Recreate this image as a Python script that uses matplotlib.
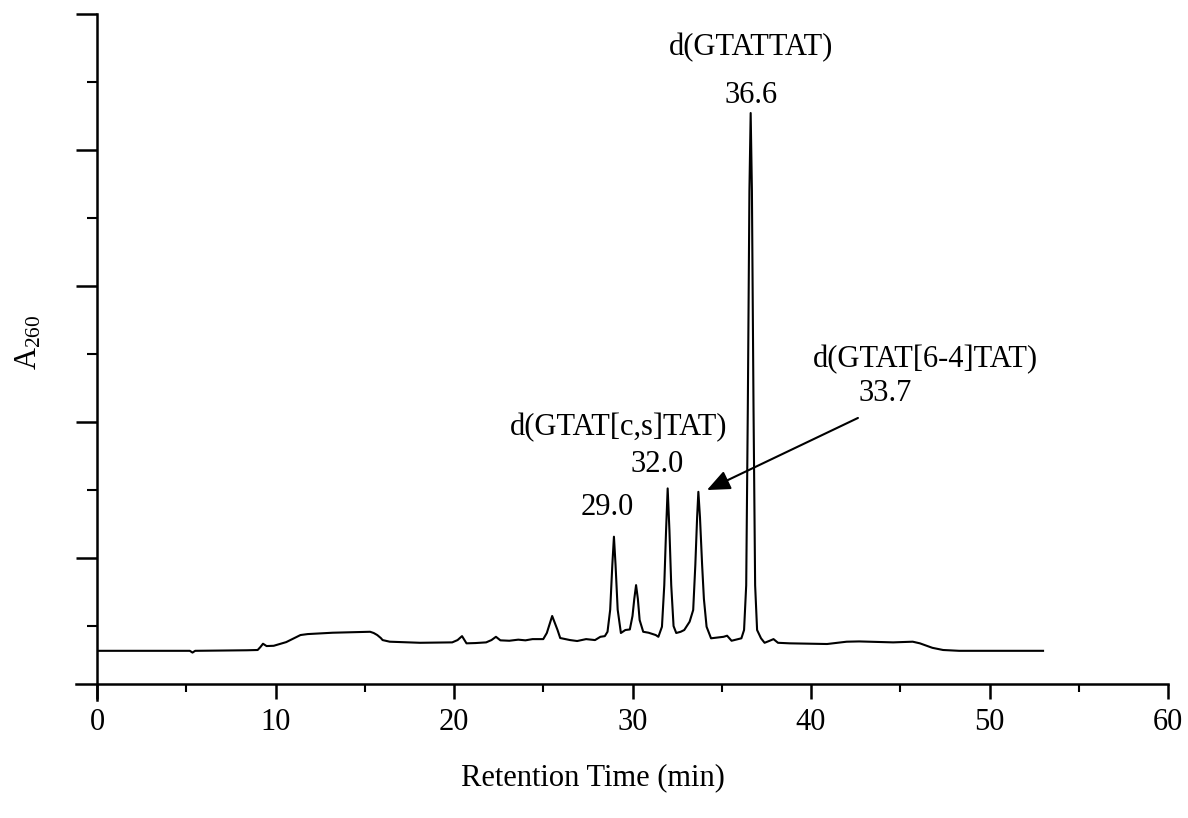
import matplotlib
matplotlib.use("Agg")
import matplotlib.pyplot as plt
from matplotlib.ticker import MultipleLocator, NullFormatter

plt.rcParams['font.family'] = ['Liberation Serif', 'DejaVu Serif']
plt.rcParams['mathtext.fontset'] = 'custom'
plt.rcParams['mathtext.rm'] = 'Liberation Serif'
plt.rcParams['mathtext.it'] = 'Liberation Serif:italic'

# Chromatogram trace
time_min = [0.0, 2.0, 4.0, 5.2, 5.35, 5.5, 7.0, 8.4, 9.0, 9.15, 9.3, 9.5, 9.9,
            10.6, 11.4, 11.8, 13.2, 15.3, 15.5, 15.7, 15.9, 16.0, 16.4, 18.1,
            19.9, 20.2, 20.45, 20.7, 21.2, 21.8, 22.1, 22.35, 22.6, 23.1, 23.6,
            24.0, 24.4, 25.0, 25.2, 25.5, 25.8, 25.95, 26.5, 26.9, 27.4, 27.9,
            28.2, 28.45, 28.6, 28.75, 28.87, 28.96, 29.05, 29.17, 29.35, 29.6,
            29.85, 30.0, 30.1, 30.2, 30.3, 30.4, 30.6, 30.9, 31.3, 31.45, 31.65,
            31.78, 31.88, 31.97, 32.07, 32.17, 32.3, 32.45, 32.7, 32.9, 33.2,
            33.4, 33.52, 33.62, 33.69, 33.78, 33.9, 34.0, 34.15, 34.4, 35.1,
            35.3, 35.55, 36.1, 36.25, 36.37, 36.46, 36.55, 36.62, 36.69, 36.78,
            36.87, 36.98, 37.2, 37.4, 37.65, 37.9, 38.15, 38.8, 40.9, 42.0,
            42.7, 44.6, 45.7, 46.1, 46.8, 47.4, 48.3, 53.0]
absorbance = [0.318, 0.318, 0.318, 0.318, 0.305, 0.318, 0.320, 0.322, 0.324,
              0.345, 0.370, 0.353, 0.355, 0.382, 0.434, 0.441, 0.451, 0.458,
              0.449, 0.434, 0.412, 0.397, 0.385, 0.377, 0.380, 0.397, 0.426,
              0.373, 0.375, 0.380, 0.397, 0.421, 0.395, 0.392, 0.400, 0.395,
              0.404, 0.404, 0.449, 0.574, 0.471, 0.412, 0.397, 0.390, 0.404,
              0.397, 0.421, 0.426, 0.458, 0.62, 0.95, 1.157, 0.95, 0.62, 0.449,
              0.471, 0.475, 0.574, 0.70, 0.801, 0.70, 0.544, 0.458, 0.451,
              0.434, 0.421, 0.495, 0.80, 1.20, 1.512, 1.20, 0.80, 0.50, 0.449,
              0.458, 0.471, 0.532, 0.618, 0.95, 1.30, 1.487, 1.30, 0.95, 0.70,
              0.495, 0.410, 0.421, 0.429, 0.392, 0.410, 0.471, 0.80, 2.1, 3.7,
              4.272, 3.7, 2.1, 0.80, 0.471, 0.410, 0.377, 0.390, 0.404, 0.377,
              0.373, 0.368, 0.385, 0.387, 0.380, 0.385, 0.373, 0.340, 0.324,
              0.318, 0.318]

x_ticks = [0, 10, 20, 30, 40, 50, 60]
x_tick_labels = ['0', '10', '20', '30', '40', '50', '60']

# Peak annotations: (text, x, y)
labels = [("d(GTATTAT)", 36.64, 4.75),
          ("36.6", 36.64, 4.40),
          ("d(GTAT[c,s]TAT)", 29.24, 1.956),
          ("32.0", 31.37, 1.69),
          ("29.0", 28.57, 1.375),
          ("d(GTAT[6-4]TAT)", 46.4, 2.456),
          ("33.7", 44.15, 2.213)]
arrow_tail = (42.63, 2.03)
arrow_tip = (34.17, 1.50)

fig = plt.figure(figsize=(11.88, 8.18), dpi=100)
ax = fig.add_axes([97/1188, 1-684/818, 1071/1188, 670/818])

ax.plot(time_min, absorbance, color='black', lw=1.5, solid_joinstyle='round')

ax.set_xlim(0, 60)
ax.set_ylim(0.074, 5)

ax.xaxis.set_major_locator(MultipleLocator(10))
ax.xaxis.set_minor_locator(MultipleLocator(5))
ax.set_xticks(x_ticks)
ax.set_xticklabels(x_tick_labels)
ax.yaxis.set_major_locator(MultipleLocator(1))
ax.yaxis.set_minor_locator(MultipleLocator(0.5))
ax.yaxis.set_major_formatter(NullFormatter())

for s in ['top', 'right']:
    ax.spines[s].set_visible(False)
for s in ['left', 'bottom']:
    ax.spines[s].set_linewidth(1.8)
ax.spines['bottom'].set_bounds(-1.18, 60)
ax.spines['left'].set_bounds(-0.04, 5)

ax.tick_params(axis='x', which='major', direction='out', length=11, width=1.8,
               labelsize=22, pad=6)
ax.tick_params(axis='x', which='minor', direction='out', length=6, width=1.5)
ax.tick_params(axis='y', which='major', direction='out', length=15, width=1.8)
ax.tick_params(axis='y', which='minor', direction='out', length=7, width=1.5)

ax.set_xlabel('Retention Time (min)', fontsize=22)
ax.xaxis.set_label_coords(0.463, -0.118)
ax.set_ylabel('A$_{260}$', fontsize=22)
ax.yaxis.set_label_coords(-0.05, 0.51)

for txt, x, y in labels:
    ax.text(x, y, txt, fontsize=22, ha='center', va='center')

ax.annotate('', xy=arrow_tip, xytext=arrow_tail,
            arrowprops=dict(arrowstyle='-|>,head_length=0.7,head_width=0.3',
                            color='black', lw=1.5, mutation_scale=20,
                            shrinkA=0, shrinkB=0))

fig.savefig('out.png', dpi=100)
